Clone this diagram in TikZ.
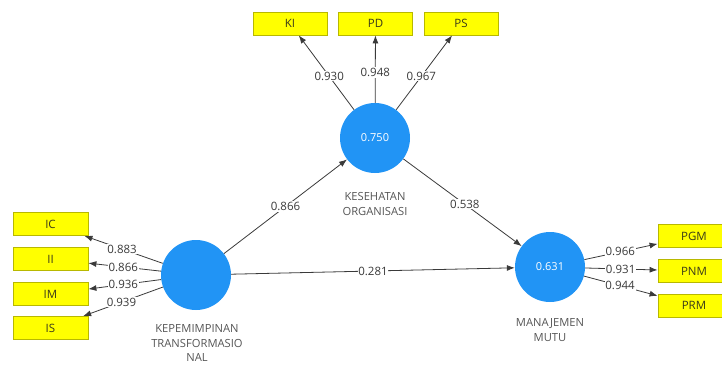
\documentclass[tikz,border=0pt]{standalone}
\usepackage{fontspec}
\setmainfont{Open Sans}
\usetikzlibrary{arrows.meta}
\definecolor{lvblue}{HTML}{2194F5}
\definecolor{indyel}{HTML}{FFFF00}
\definecolor{indbrd}{HTML}{B8B800}
\definecolor{linec}{HTML}{3A3A3A}
\definecolor{namec}{HTML}{555555}
\definecolor{indtxt}{HTML}{3A3A1A}
\tikzset{
  lv/.style={circle, fill=lvblue, draw=none, minimum size=70pt, inner sep=0pt, text=white, font=\fontsize{11}{13}\selectfont},
  ind/.style={rectangle, fill=indyel, draw=indbrd, line width=0.8pt, minimum height=23pt, inner sep=0pt, text=indtxt, font=\fontsize{11.5}{13}\selectfont},
  lvname/.style={align=center, text=namec, font=\fontsize{11.2}{14.5}\selectfont, inner sep=0pt},
  conn/.style={draw=linec, line width=0.8pt, -{Latex[length=8pt,width=6pt]}},
  val/.style={fill=white, inner sep=0.8pt, text=linec, font=\fontsize{11.5}{13}\selectfont},
}
\begin{document}
\begin{tikzpicture}[x=1pt,y=-1pt]
\useasboundingbox (0,0) rectangle (722,364);
% latent variables
\node[lv] (KT) at (196,275) {};
\node[lv] (KO) at (375,138) {0.750};
\node[lv] (MM) at (550,267) {0.631};
% names
\node[lvname] (KTn) at (197,343) {KEPEMIMPINAN\\TRANSFORMASIO\\NAL};
\node[lvname] (KOn) at (375,204) {KESEHATAN\\ORGANISASI};
\node[lvname] (MMn) at (550,330) {MANAJEMEN\\MUTU};
% indicators
\node[ind, minimum width=75pt] (IC) at (50.5,224) {IC};
\node[ind, minimum width=75pt] (II) at (50.5,259) {II};
\node[ind, minimum width=75pt] (IM) at (50.5,294) {IM};
\node[ind, minimum width=75pt] (IS) at (50.5,328) {IS};
\node[ind, minimum width=74pt] (KI) at (290,23.5) {KI};
\node[ind, minimum width=74pt] (PD) at (375.5,23.5) {PD};
\node[ind, minimum width=74pt] (PS) at (461,23.5) {PS};
\node[ind, minimum width=72pt] (PGM) at (694,236) {PGM};
\node[ind, minimum width=72pt] (PNM) at (694,271) {PNM};
\node[ind, minimum width=72pt] (PRM) at (694,305.5) {PRM};
% outer loadings
\draw[conn] (KT) -- node[val, pos=0.52] {0.883} (IC);
\draw[conn] (KT) -- node[val, pos=0.52] {0.866} (II);
\draw[conn] (KT) -- node[val, pos=0.52] {0.936} (IM);
\draw[conn] (KT) -- node[val, pos=0.52] {0.939} (IS);
\draw[conn] (KO) -- node[val, pos=0.45] {0.930} (KI);
\draw[conn] (KO) -- node[val, pos=0.45] {0.948} (PD);
\draw[conn] (KO) -- node[val, pos=0.45] {0.967} (PS);
\draw[conn] (MM) -- node[val, pos=0.49] {0.966} (PGM);
\draw[conn] (MM) -- node[val, pos=0.49] {0.931} (PNM);
\draw[conn] (MM) -- node[val, pos=0.49] {0.944} (PRM);
% paths
\draw[conn] (KT) -- node[val, pos=0.5] {0.866} (KO);
\draw[conn] (KO) -- node[val, pos=0.52] {0.538} (MM);
\draw[conn] (KT) -- node[val, pos=0.5] {0.281} (MM);
\end{tikzpicture}
\end{document}
